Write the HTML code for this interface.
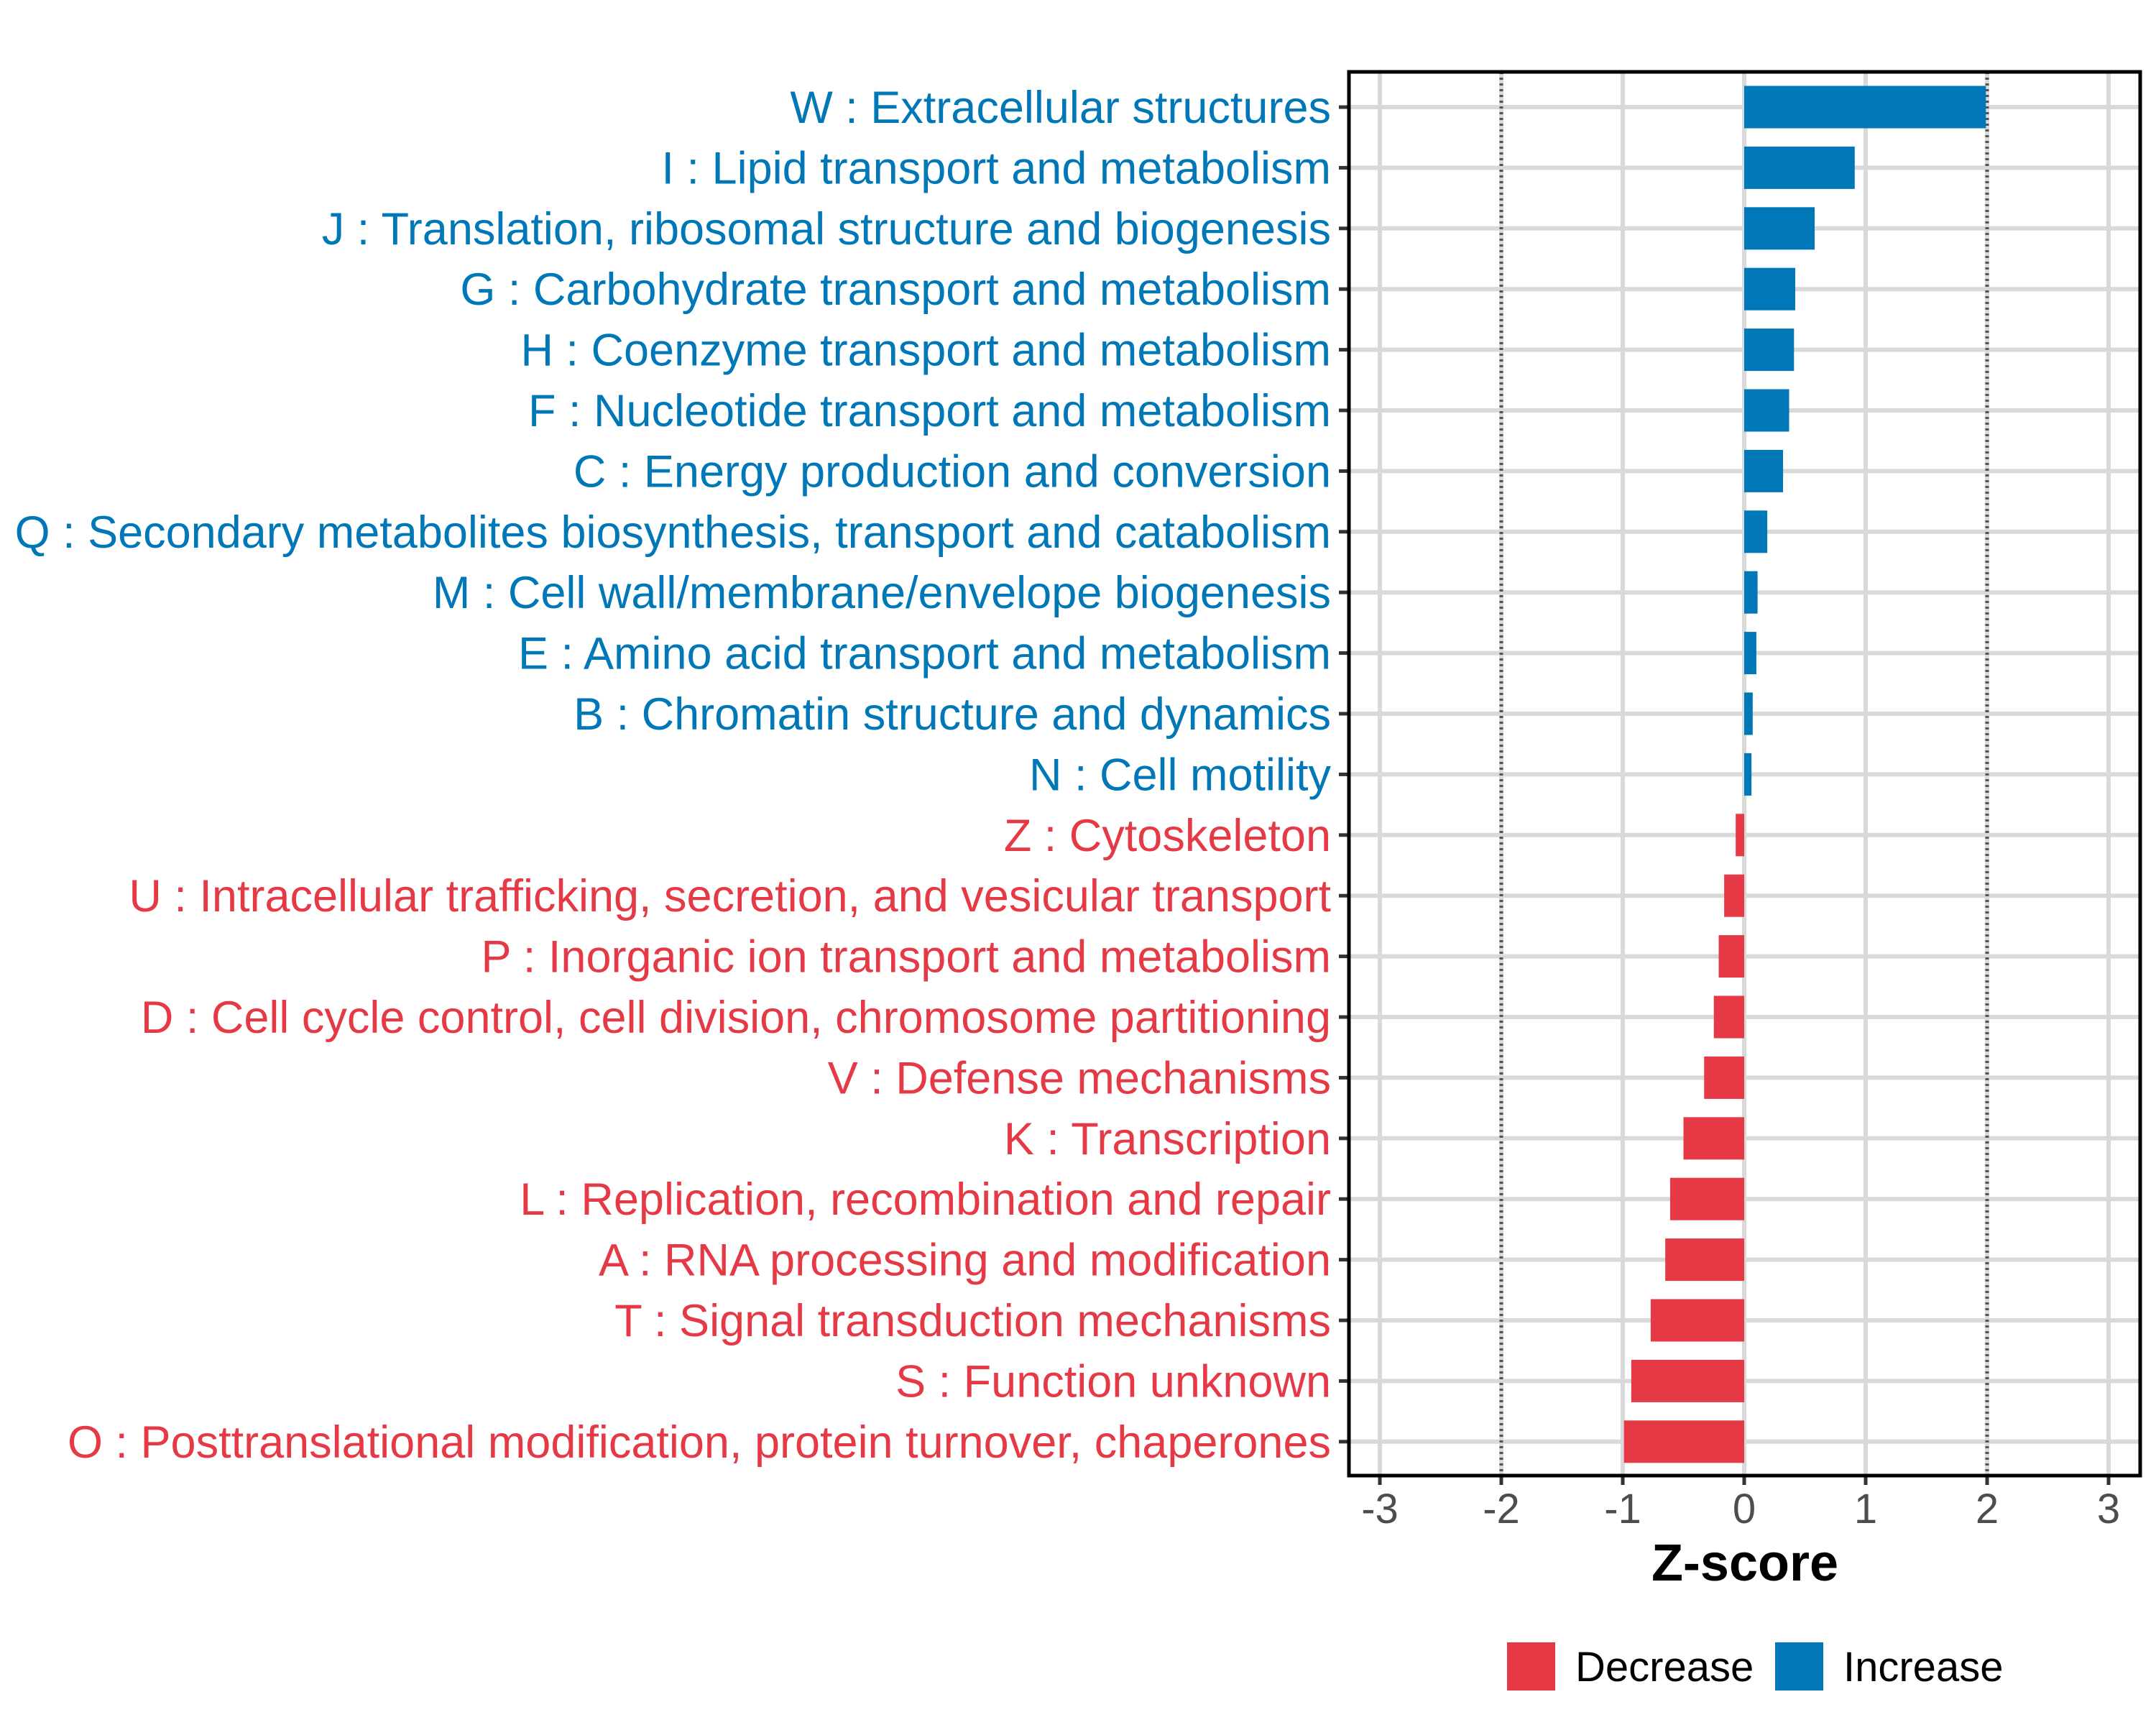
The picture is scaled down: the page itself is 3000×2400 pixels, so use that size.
<!DOCTYPE html>
<html><head><meta charset="utf-8"><style>
html,body{margin:0;padding:0;background:#fff;}
svg{display:block;font-family:"Liberation Sans",sans-serif;}
</style></head><body>
<svg id="chart" width="3000" height="2400" viewBox="0 0 3000 2400" xmlns="http://www.w3.org/2000/svg">
<rect x="0" y="0" width="3000" height="2400" fill="#fff"/>
<g id="grid"></g>
<g id="bars"></g>
<g id="ylabels"></g>
<g id="xaxis"></g>
<rect x="1877" y="100" width="1101" height="1953" fill="none" stroke="#000" stroke-width="5"/>
<text x="2428" y="2199" text-anchor="middle" font-size="72" font-weight="bold" fill="#000">Z-score</text>
<g>
<rect x="2097" y="2285" width="67" height="67" fill="#E63946"/>
<text x="2192" y="2339" font-size="58" fill="#000">Decrease</text>
<rect x="2470" y="2285" width="67" height="67" fill="#0077B6"/>
<text x="2565" y="2339" font-size="58" fill="#000">Increase</text>
</g>
</svg>
<script>
const categories = ["W : Extracellular structures","I : Lipid transport and metabolism","J : Translation, ribosomal structure and biogenesis","G : Carbohydrate transport and metabolism","H : Coenzyme transport and metabolism","F : Nucleotide transport and metabolism","C : Energy production and conversion","Q : Secondary metabolites biosynthesis, transport and catabolism","M : Cell wall/membrane/envelope biogenesis","E : Amino acid transport and metabolism","B : Chromatin structure and dynamics","N : Cell motility","Z : Cytoskeleton","U : Intracellular trafficking, secretion, and vesicular transport","P : Inorganic ion transport and metabolism","D : Cell cycle control, cell division, chromosome partitioning","V : Defense mechanisms","K : Transcription","L : Replication, recombination and repair","A : RNA processing and modification","T : Signal transduction mechanisms","S : Function unknown","O : Posttranslational modification, protein turnover, chaperones"];
const zscores = [1.99,0.91,0.58,0.42,0.41,0.37,0.32,0.19,0.11,0.10,0.07,0.06,-0.07,-0.165,-0.21,-0.25,-0.33,-0.50,-0.61,-0.65,-0.77,-0.93,-0.99];
const xTicks = [-3,-2,-1,0,1,2,3];
const xTickLabels = ["-3","-2","-1","0","1","2","3"];
const thresholds = [-2,2];

const NS="http://www.w3.org/2000/svg";
const X0=2427, UNIT=169, Y0=149, STEP=84.4, BARH=59;
const PL=1877, PR=2978, PT=100, PB=2053;
const xs=v=>X0+v*UNIT;
const ys=i=>Y0+i*STEP;
function mk(tag,attrs,parent){const e=document.createElementNS(NS,tag);for(const k in attrs)e.setAttribute(k,attrs[k]);parent.appendChild(e);return e;}
const grid=document.getElementById('grid'),bars=document.getElementById('bars'),yl=document.getElementById('ylabels'),xa=document.getElementById('xaxis');

categories.forEach((c,i)=>{
  const l=mk('line',{x1:PL,x2:PR,y1:ys(i),y2:ys(i),stroke:'#d9d9d9','stroke-width':6},grid);
  
  
});
xTicks.forEach(t=>{
  const l=mk('line',{x1:xs(t),x2:xs(t),y1:PT,y2:PB,stroke:'#d9d9d9','stroke-width':6},grid);
  
  
});
thresholds.forEach(t=>{
  const l=mk('line',{x1:xs(t),x2:xs(t),y1:PT,y2:PB,stroke:'#555','stroke-width':5,'stroke-dasharray':'3 5'},grid);
  
  
});
zscores.forEach((v,i)=>{
  const x=Math.min(xs(0),xs(v)),w=Math.abs(xs(v)-xs(0));
  const r=mk('rect',{x:x,y:ys(i)-BARH/2,width:w,height:BARH,fill:v>=0?'#0077B6':'#E63946'},bars);
  
  
});
categories.forEach((c,i)=>{
  const t=mk('text',{x:1852,y:ys(i)+22,'text-anchor':'end','font-size':63,fill:zscores[i]>=0?'#0077B6':'#E63946'},yl);
  t.textContent=c;
  
  
  const k=mk('line',{x1:1863,x2:PL,y1:ys(i),y2:ys(i),stroke:'#333','stroke-width':5},yl);
  
  
});
xTicks.forEach((t,j)=>{
  const k=mk('line',{x1:xs(t),x2:xs(t),y1:PB,y2:PB+13,stroke:'#333','stroke-width':5},xa);
  
  
  const lb=mk('text',{x:xs(t),y:2119,'text-anchor':'middle','font-size':58,fill:'#4d4d4d'},xa);
  lb.textContent=xTickLabels[j];
  
  
});
</script>
</body></html>
